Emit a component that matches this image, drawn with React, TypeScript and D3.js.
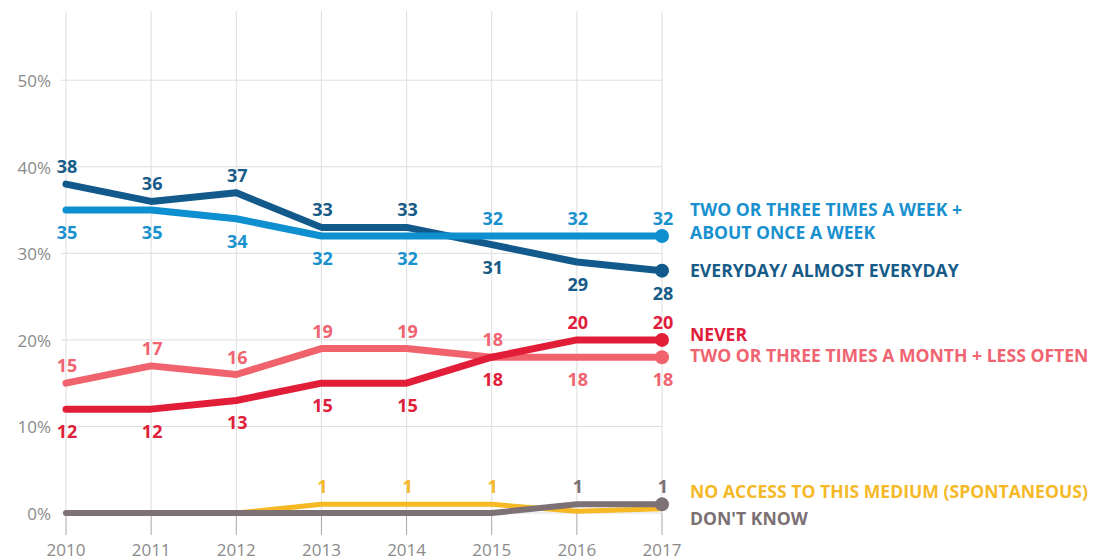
import React from "react";
import * as d3 from "d3";

const years = [2010, 2011, 2012, 2013, 2014, 2015, 2016, 2017];
const yTicks = [0, 10, 20, 30, 40, 50];

const everyday = [38, 36, 37, 33, 33, 31, 29, 28];
const weekly = [35, 35, 34, 32, 32, 32, 32, 32];
const monthly = [15, 17, 16, 19, 19, 18, 18, 18];
const never = [12, 12, 13, 15, 15, 18, 20, 20];
const noAccess = [0, 0, 0, 1, 1, 1, 0.2, 0.5];
const dontKnow = [0, 0, 0, 0, 0, 0, 1, 1];

const noAccessLabels = [null, null, null, 1, 1, 1, null, null];
const dontKnowLabels = [null, null, null, null, null, null, 1, 1];

// label placement: 1 = above the line, -1 = below
const everydayPlace = [1, 1, 1, 1, 1, -1, -1, -1];
const weeklyPlace = [-1, -1, -1, -1, -1, 1, 1, 1];
const monthlyPlace = [1, 1, 1, 1, 1, 1, -1, -1];
const neverPlace = [-1, -1, -1, -1, -1, -1, 1, 1];
const smallPlace = [1, 1, 1, 1, 1, 1, 1, 1];

type Series = {
  name: string[];
  values: number[];
  labels: (number | null)[];
  place: number[];
  color: string;
  labelColor: string;
  width: number;
  legendY: number[];
  dot: boolean;
};

const series: Series[] = [
  { name: ["EVERYDAY/ ALMOST EVERYDAY"], values: everyday, labels: everyday, place: everydayPlace, color: "#135a8c", labelColor: "#175b88", width: 7, legendY: [277], dot: true },
  { name: ["TWO OR THREE TIMES A WEEK +", "ABOUT ONCE A WEEK"], values: weekly, labels: weekly, place: weeklyPlace, color: "#0d8fd0", labelColor: "#1a91cf", width: 7, legendY: [216, 239], dot: true },
  { name: ["TWO OR THREE TIMES A MONTH + LESS OFTEN"], values: monthly, labels: monthly, place: monthlyPlace, color: "#f0626c", labelColor: "#ef6470", width: 7, legendY: [362], dot: true },
  { name: ["NEVER"], values: never, labels: never, place: neverPlace, color: "#e21d38", labelColor: "#e0203a", width: 7, legendY: [341], dot: true },
  { name: ["NO ACCESS TO THIS MEDIUM (SPONTANEOUS)"], values: noAccess, labels: noAccessLabels, place: smallPlace, color: "#f6b823", labelColor: "#f5b928", width: 5, legendY: [498], dot: false },
  { name: ["DON'T KNOW"], values: dontKnow, labels: dontKnowLabels, place: smallPlace, color: "#7e7175", labelColor: "#7b7073", width: 6, legendY: [525], dot: true },
];

export default function App() {
  const x = d3.scalePoint<number>().domain(years).range([66, 662]);
  const y = d3.scaleLinear().domain([0, 58]).range([513, 11]);
  const line = d3
    .line<number>()
    .x((_, i) => x(years[i]) as number)
    .y((d) => y(d))
    .curve(d3.curveLinear);
  const font = "'Open Sans', 'Noto Sans', sans-serif";

  return (
    <svg
      width={1097}
      height={560}
      style={{ position: "absolute", left: 0, top: 0, background: "#fff" }}
      fontFamily={font}
    >
      {yTicks.map((t) => (
        <line key={"h" + t} x1={61} x2={662} y1={y(t)} y2={y(t)} stroke="#dddddd" strokeWidth={1} />
      ))}
      {years.map((yr) => (
        <g key={"v" + yr}>
          <line x1={x(yr)} x2={x(yr)} y1={y(58)} y2={y(0)} stroke="#dddddd" strokeWidth={1} />
          <line x1={x(yr)} x2={x(yr)} y1={y(0)} y2={y(0) + 22} stroke="#a8a8a8" strokeWidth={1} />
          <text x={x(yr)} y={556} textAnchor="middle" fontSize={17} fill="#8a8a8a">
            {yr}
          </text>
        </g>
      ))}
      {yTicks.map((t) => (
        <text key={"yt" + t} x={51} y={y(t) + 7} textAnchor="end" fontSize={17} fill="#8a8a8a">
          {t + "%"}
        </text>
      ))}
      {series.map((s, si) => (
        <g key={"s" + si}>
          <path d={line(s.values) || ""} fill="none" stroke={s.color} strokeWidth={s.width} strokeLinejoin="round" strokeLinecap="round" />
          {s.dot && <circle cx={x(2017)} cy={y(s.values[7])} r={7} fill={s.color} />}
        </g>
      ))}
      {series.map((s, si) =>
        s.labels.map((v, i) =>
          v === null ? null : (
            <text
              key={"l" + si + "-" + i}
              x={(x(years[i]) as number) + 1}
              y={y(s.values[i]) + (s.place[i] > 0 ? -11 : 29)}
              textAnchor="middle"
              fontSize={18}
              fontWeight={700}
              fill={s.labelColor}
            >
              {v}
            </text>
          )
        )
      )}
      {series.map((s, si) =>
        s.name.map((n, j) => (
          <text key={"n" + si + "-" + j} x={690} y={s.legendY[j]} fontSize={17.6} fontWeight={700} fill={s.labelColor}>
            {n}
          </text>
        ))
      )}
    </svg>
  );
}
